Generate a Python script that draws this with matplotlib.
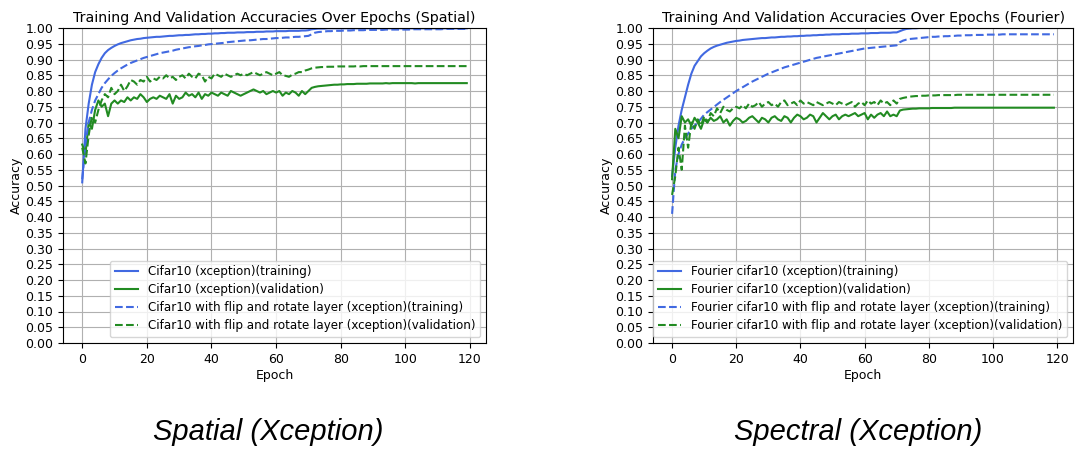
import matplotlib
matplotlib.use("Agg")
import matplotlib.pyplot as plt
import numpy as np

epochs = list(range(120))

# ---------------- Spatial (left) ----------------
spatial_train = [
    0.51, 0.68, 0.76, 0.82, 0.86, 0.885, 0.905, 0.92, 0.93, 0.937,
    0.943, 0.948, 0.952, 0.955, 0.958, 0.961, 0.963, 0.965, 0.966, 0.968,
    0.969, 0.970, 0.971, 0.972, 0.972, 0.973, 0.974, 0.975, 0.975, 0.976,
    0.977, 0.977, 0.978, 0.978, 0.979, 0.980, 0.980, 0.981, 0.981, 0.982,
    0.982, 0.983, 0.983, 0.984, 0.984, 0.985, 0.985, 0.985, 0.986, 0.986,
    0.986, 0.987, 0.987, 0.987, 0.988, 0.988, 0.988, 0.989, 0.989, 0.989,
    0.990, 0.990, 0.990, 0.990, 0.991, 0.991, 0.991, 0.991, 0.992, 0.992,
    0.993, 0.996, 0.997, 0.998, 0.998, 0.998, 0.999, 0.999, 0.999, 0.999,
    0.999, 0.999, 0.999, 0.999, 0.999, 0.999, 0.999, 0.999, 0.999, 0.999,
    0.999, 0.999, 0.999, 0.999, 0.999, 0.999, 0.999, 0.999, 0.999, 0.999,
    0.999, 0.999, 0.999, 0.999, 0.999, 0.999, 0.999, 0.999, 0.999, 0.999,
    0.999, 0.999, 0.999, 0.999, 0.999, 0.999, 0.999, 0.999, 0.999, 0.999,
]
spatial_val = [
    0.63, 0.60, 0.70, 0.68, 0.74, 0.77, 0.75, 0.76, 0.72, 0.76,
    0.77, 0.76, 0.77, 0.765, 0.78, 0.77, 0.78, 0.775, 0.79, 0.78,
    0.765, 0.775, 0.78, 0.775, 0.785, 0.78, 0.775, 0.79, 0.76, 0.785,
    0.775, 0.78, 0.795, 0.785, 0.79, 0.78, 0.795, 0.775, 0.79, 0.785,
    0.795, 0.79, 0.785, 0.795, 0.79, 0.785, 0.80, 0.795, 0.79, 0.785,
    0.79, 0.795, 0.80, 0.805, 0.80, 0.795, 0.80, 0.79, 0.795, 0.80,
    0.795, 0.80, 0.785, 0.795, 0.79, 0.80, 0.795, 0.785, 0.80, 0.79,
    0.80, 0.81, 0.813, 0.815, 0.816, 0.817, 0.818, 0.819, 0.820, 0.820,
    0.821, 0.821, 0.822, 0.822, 0.822, 0.823, 0.823, 0.823, 0.823, 0.824,
    0.824, 0.824, 0.824, 0.824, 0.825, 0.824, 0.825, 0.825, 0.825, 0.825,
    0.825, 0.825, 0.825, 0.824, 0.825, 0.825, 0.825, 0.825, 0.825, 0.825,
    0.825, 0.825, 0.825, 0.825, 0.825, 0.825, 0.825, 0.825, 0.825, 0.825,
]
spatial_aug_train = [
    0.52, 0.63, 0.70, 0.74, 0.77, 0.79, 0.81, 0.825, 0.837, 0.848,
    0.857, 0.865, 0.872, 0.878, 0.884, 0.889, 0.893, 0.897, 0.901, 0.905,
    0.908, 0.911, 0.914, 0.917, 0.920, 0.922, 0.924, 0.926, 0.928, 0.931,
    0.933, 0.935, 0.937, 0.939, 0.940, 0.942, 0.943, 0.945, 0.946, 0.948,
    0.949, 0.950, 0.951, 0.952, 0.953, 0.955, 0.956, 0.957, 0.958, 0.959,
    0.960, 0.961, 0.961, 0.962, 0.963, 0.964, 0.965, 0.965, 0.966, 0.967,
    0.968, 0.968, 0.969, 0.970, 0.970, 0.971, 0.972, 0.972, 0.973, 0.974,
    0.975, 0.980, 0.985, 0.987, 0.988, 0.989, 0.990, 0.990, 0.991, 0.991,
    0.991, 0.992, 0.992, 0.992, 0.993, 0.993, 0.993, 0.993, 0.994, 0.994,
    0.994, 0.994, 0.994, 0.994, 0.995, 0.995, 0.995, 0.995, 0.995, 0.995,
    0.995, 0.995, 0.996, 0.996, 0.996, 0.996, 0.996, 0.996, 0.996, 0.996,
    0.996, 0.996, 0.997, 0.997, 0.997, 0.997, 0.997, 0.997, 0.997, 0.997,
]
spatial_aug_val = [
    0.62, 0.57, 0.66, 0.72, 0.70, 0.74, 0.77, 0.79, 0.78, 0.81,
    0.79, 0.80, 0.82, 0.80, 0.815, 0.835, 0.83, 0.82, 0.835, 0.83,
    0.845, 0.83, 0.84, 0.835, 0.845, 0.84, 0.85, 0.84, 0.845, 0.835,
    0.845, 0.85, 0.84, 0.855, 0.845, 0.84, 0.855, 0.85, 0.83, 0.845,
    0.84, 0.855, 0.85, 0.845, 0.855, 0.85, 0.845, 0.85, 0.855, 0.85,
    0.855, 0.85, 0.855, 0.86, 0.855, 0.85, 0.855, 0.86, 0.855, 0.85,
    0.855, 0.86, 0.85, 0.848, 0.845, 0.852, 0.855, 0.86, 0.86, 0.865,
    0.868, 0.872, 0.874, 0.875, 0.876, 0.876, 0.877, 0.877, 0.877, 0.878,
    0.878, 0.878, 0.878, 0.878, 0.878, 0.879, 0.878, 0.879, 0.879, 0.879,
    0.879, 0.879, 0.879, 0.879, 0.879, 0.879, 0.879, 0.879, 0.879, 0.879,
    0.879, 0.879, 0.879, 0.879, 0.879, 0.879, 0.879, 0.879, 0.879, 0.879,
    0.879, 0.879, 0.879, 0.879, 0.879, 0.879, 0.879, 0.879, 0.879, 0.879,
]

# ---------------- Fourier (right) ----------------
fourier_train = [
    0.53, 0.62, 0.69, 0.74, 0.78, 0.82, 0.855, 0.88, 0.895, 0.91,
    0.92, 0.928, 0.935, 0.94, 0.944, 0.947, 0.950, 0.953, 0.955, 0.957,
    0.959, 0.960, 0.962, 0.963, 0.964, 0.965, 0.966, 0.967, 0.968, 0.968,
    0.969, 0.970, 0.970, 0.971, 0.972, 0.972, 0.973, 0.973, 0.974, 0.974,
    0.975, 0.975, 0.976, 0.976, 0.977, 0.977, 0.978, 0.978, 0.979, 0.979,
    0.980, 0.980, 0.980, 0.981, 0.981, 0.981, 0.982, 0.982, 0.982, 0.983,
    0.983, 0.983, 0.984, 0.984, 0.984, 0.985, 0.985, 0.985, 0.985, 0.986,
    0.986, 0.990, 0.994, 0.997, 0.998, 0.999, 0.999, 1.000, 1.000, 1.000,
    1.000, 1.000, 1.000, 1.000, 1.000, 1.000, 1.000, 1.000, 1.000, 1.000,
    1.000, 1.000, 1.000, 1.000, 1.000, 1.000, 1.000, 1.000, 1.000, 1.000,
    1.000, 1.000, 1.000, 1.000, 1.000, 1.000, 1.000, 1.000, 1.000, 1.000,
    1.000, 1.000, 1.000, 1.000, 1.000, 1.000, 1.000, 1.000, 1.000, 1.000,
]
fourier_val = [
    0.52, 0.68, 0.65, 0.72, 0.70, 0.71, 0.69, 0.715, 0.70, 0.68,
    0.71, 0.70, 0.715, 0.705, 0.71, 0.72, 0.70, 0.71, 0.69, 0.705,
    0.715, 0.71, 0.70, 0.705, 0.715, 0.72, 0.71, 0.70, 0.715, 0.71,
    0.70, 0.715, 0.72, 0.71, 0.705, 0.72, 0.715, 0.70, 0.715, 0.725,
    0.72, 0.71, 0.715, 0.725, 0.72, 0.70, 0.715, 0.73, 0.72, 0.71,
    0.72, 0.725, 0.71, 0.72, 0.725, 0.72, 0.725, 0.73, 0.72, 0.725,
    0.73, 0.71, 0.725, 0.715, 0.725, 0.73, 0.72, 0.735, 0.72, 0.725,
    0.72, 0.738, 0.741, 0.742, 0.743, 0.744, 0.744, 0.745, 0.745, 0.745,
    0.745, 0.746, 0.746, 0.746, 0.746, 0.746, 0.746, 0.746, 0.747, 0.747,
    0.747, 0.747, 0.747, 0.747, 0.747, 0.747, 0.747, 0.747, 0.747, 0.747,
    0.747, 0.747, 0.747, 0.747, 0.747, 0.747, 0.747, 0.747, 0.747, 0.747,
    0.747, 0.747, 0.747, 0.747, 0.747, 0.747, 0.747, 0.747, 0.747, 0.747,
]
fourier_aug_train = [
    0.41, 0.55, 0.60, 0.63, 0.65, 0.665, 0.68, 0.69, 0.70, 0.712,
    0.725, 0.733, 0.741, 0.749, 0.757, 0.765, 0.772, 0.779, 0.786, 0.793,
    0.800, 0.806, 0.812, 0.818, 0.824, 0.830, 0.835, 0.840, 0.845, 0.850,
    0.855, 0.859, 0.863, 0.867, 0.871, 0.875, 0.878, 0.881, 0.884, 0.887,
    0.890, 0.893, 0.896, 0.899, 0.902, 0.905, 0.907, 0.909, 0.911, 0.913,
    0.915, 0.917, 0.919, 0.921, 0.923, 0.925, 0.927, 0.929, 0.931, 0.933,
    0.935, 0.936, 0.937, 0.938, 0.939, 0.940, 0.941, 0.942, 0.943, 0.944,
    0.945, 0.955, 0.960, 0.963, 0.965, 0.966, 0.967, 0.968, 0.969, 0.970,
    0.971, 0.972, 0.972, 0.973, 0.973, 0.974, 0.974, 0.975, 0.975, 0.976,
    0.976, 0.977, 0.977, 0.977, 0.978, 0.978, 0.978, 0.978, 0.979, 0.979,
    0.979, 0.979, 0.979, 0.980, 0.980, 0.980, 0.980, 0.980, 0.980, 0.980,
    0.980, 0.980, 0.980, 0.980, 0.980, 0.980, 0.980, 0.980, 0.980, 0.980,
]
fourier_aug_val = [
    0.47, 0.53, 0.62, 0.55, 0.69, 0.62, 0.70, 0.68, 0.71, 0.69,
    0.72, 0.70, 0.73, 0.72, 0.745, 0.73, 0.75, 0.74, 0.735, 0.745,
    0.75, 0.745, 0.755, 0.745, 0.76, 0.75, 0.755, 0.765, 0.75, 0.76,
    0.765, 0.755, 0.76, 0.75, 0.765, 0.77, 0.755, 0.76, 0.765, 0.755,
    0.77, 0.76, 0.765, 0.76, 0.755, 0.765, 0.76, 0.755, 0.76, 0.765,
    0.76, 0.755, 0.765, 0.76, 0.755, 0.76, 0.765, 0.75, 0.76, 0.765,
    0.755, 0.77, 0.76, 0.765, 0.755, 0.77, 0.76, 0.765, 0.755, 0.77,
    0.76, 0.775, 0.778, 0.780, 0.782, 0.783, 0.784, 0.784, 0.785, 0.785,
    0.786, 0.786, 0.786, 0.787, 0.787, 0.787, 0.787, 0.787, 0.787, 0.788,
    0.788, 0.788, 0.788, 0.788, 0.788, 0.788, 0.788, 0.788, 0.788, 0.788,
    0.788, 0.788, 0.788, 0.788, 0.788, 0.788, 0.788, 0.788, 0.788, 0.788,
    0.788, 0.788, 0.788, 0.788, 0.788, 0.788, 0.788, 0.788, 0.788, 0.788,
]

titles = ["Training And Validation Accuracies Over Epochs (Spatial)",
          "Training And Validation Accuracies Over Epochs (Fourier)"]
labels_left = ["Cifar10 (xception)(training)",
               "Cifar10 (xception)(validation)",
               "Cifar10 with flip and rotate layer (xception)(training)",
               "Cifar10 with flip and rotate layer (xception)(validation)"]
labels_right = ["Fourier cifar10 (xception)(training)",
                "Fourier cifar10 (xception)(validation)",
                "Fourier cifar10 with flip and rotate layer (xception)(training)",
                "Fourier cifar10 with flip and rotate layer (xception)(validation)"]
captions = ["Spatial (Xception)", "Spectral (Xception)"]

BLUE = "royalblue"
GREEN = "forestgreen"

fig = plt.figure(figsize=(10.75, 4.5), dpi=100)
ax1 = fig.add_axes([63/1075, 1-343/450, (486-63)/1075, (343-28)/450])
ax2 = fig.add_axes([653/1075, 1-343/450, (1073-653)/1075, (343-28)/450])

datasets = [
    (ax1, spatial_train, spatial_val, spatial_aug_train, spatial_aug_val, labels_left, titles[0]),
    (ax2, fourier_train, fourier_val, fourier_aug_train, fourier_aug_val, labels_right, titles[1]),
]
for ax, tr, va, atr, ava, labs, title in datasets:
    ax.plot(epochs, tr, color=BLUE, lw=1.5, label=labs[0])
    ax.plot(epochs, va, color=GREEN, lw=1.5, label=labs[1])
    ax.plot(epochs, atr, color=BLUE, lw=1.5, ls="--", label=labs[2])
    ax.plot(epochs, ava, color=GREEN, lw=1.5, ls="--", label=labs[3])
    ax.set_ylim(0, 1)
    ax.set_yticks(np.arange(0, 1.0001, 0.05))
    ax.set_xticks(range(0, 121, 20))
    ax.grid(True, color="#b0b0b0", lw=0.8)
    ax.set_axisbelow(True)
    ax.set_title(title, fontsize=10.2, pad=4)
    ax.set_xlabel("Epoch", fontsize=9, labelpad=2)
    ax.set_ylabel("Accuracy", fontsize=9, labelpad=2)
    ax.tick_params(labelsize=9)
    ax.legend(loc="lower right", fontsize=8.55, labelspacing=0.42)

fig.text(268/1075, 1-432/450, captions[0], ha="center", va="center",
         fontsize=21, style="italic", family="Liberation Sans")
fig.text(858/1075, 1-432/450, captions[1], ha="center", va="center",
         fontsize=21, style="italic", family="Liberation Sans")

fig.savefig("out.png", dpi=100)
